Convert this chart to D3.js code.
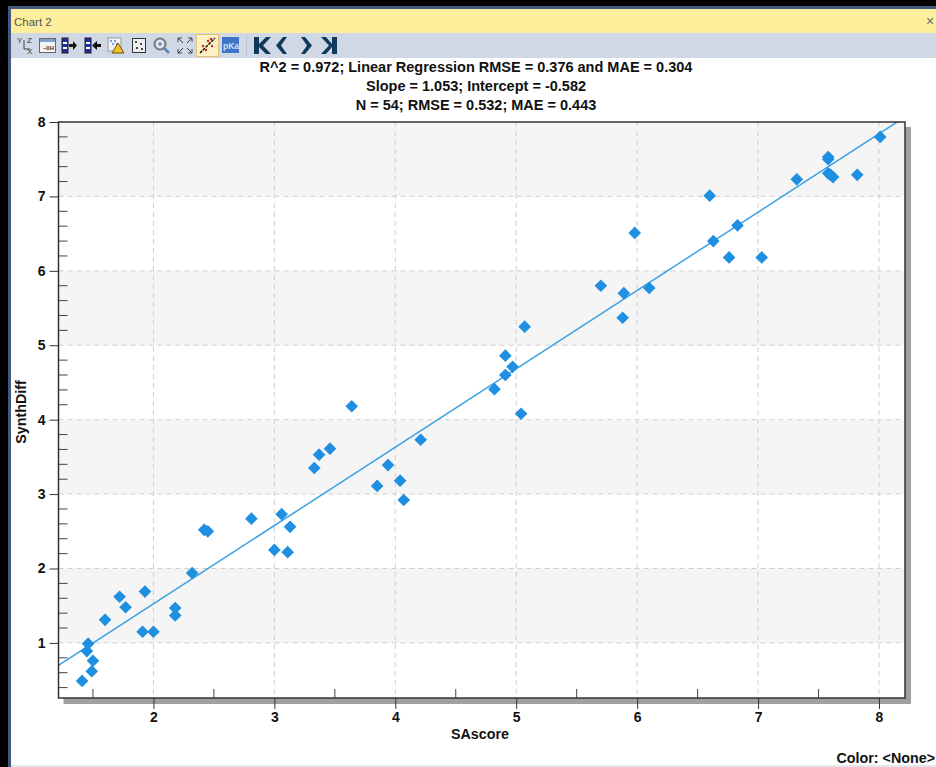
<!DOCTYPE html>
<html><head><meta charset="utf-8">
<script src="https://cdn.jsdelivr.net/npm/d3@7"></script>
<style>html,body{margin:0;padding:0;background:#000;overflow:hidden}svg{display:block}text{font-family:"Liberation Sans",Arial,sans-serif}</style>
</head><body><div id="c"></div>
<script>
const saScore = [1.41,1.49,1.50,1.45,1.46,1.60,1.72,1.77,1.91,2.00,1.93,2.18,2.18,2.32,2.42,2.45,2.81,3.00,3.06,3.11,3.13,3.33,3.37,3.46,3.64,3.85,3.94,4.04,4.07,4.21,4.82,4.91,4.91,4.97,5.04,5.07,5.70,5.89,5.88,5.98,6.10,6.60,6.63,6.76,6.83,7.03,7.32,7.58,7.58,7.58,7.62,7.60,7.82,8.01];
const synthDiff = [0.49,0.62,0.76,0.89,0.99,1.31,1.62,1.48,1.15,1.15,1.69,1.47,1.37,1.94,2.52,2.50,2.67,2.25,2.73,2.22,2.56,3.35,3.53,3.61,4.18,3.11,3.39,3.18,2.92,3.73,4.41,4.60,4.86,4.71,4.08,5.25,5.80,5.70,5.37,6.51,5.77,7.01,6.40,6.18,6.61,6.18,7.23,7.53,7.50,7.31,7.26,7.29,7.29,7.80];
const slope = 1.053, intercept = -0.582;
const xTicks = [2,3,4,5,6,7,8];
const yTicks = [1,2,3,4,5,6,7,8];
const bands = [[1,2],[3,4],[5,6],[7,8]];
const titleLines = ["R^2 = 0.972; Linear Regression RMSE = 0.376 and MAE = 0.304","Slope = 1.053; Intercept = -0.582","N = 54; RMSE = 0.532; MAE = 0.443"];
const xDomain = [1.215,8.215], yDomain = [0.26,8];
const xMinor = [1.5,2.5,3.5,4.5,5.5,6.5,7.5];
const yMinor = d3.range(0,8).flatMap(i=>[.2,.4,.6,.8].map(f=>+(i+f).toFixed(1))).filter(v=>v>yDomain[0]);

const W=936,H=767;
const L=58.5,R=905,T=122,B=698;
const x=d3.scaleLinear().domain(xDomain).range([L,R]);
const y=d3.scaleLinear().domain(yDomain).range([B,T]);
const svg=d3.select("#c").append("svg").attr("width",W).attr("height",H);

// window chrome
svg.append("rect").attr("width",W).attr("height",H).attr("fill","#000");
svg.append("rect").attr("x",8).attr("y",6).attr("width",W-8).attr("height",H-6).attr("fill","#44587f");
svg.append("rect").attr("x",11).attr("y",9).attr("width",W-11).attr("height",H-9).attr("fill","#fff");
svg.append("rect").attr("x",11).attr("y",9).attr("width",W-11).attr("height",24).attr("fill","#fdee9c");
svg.append("rect").attr("x",11).attr("y",33).attr("width",W-11).attr("height",25).attr("fill","#d0d7e5");
svg.append("rect").attr("x",11).attr("y",765).attr("width",W-11).attr("height",2).attr("fill","#e4e6f0");
svg.append("text").attr("x",14).attr("y",26).attr("font-size",11.500).attr("fill","#555").text("Chart 2");
svg.append("text").attr("x",926).attr("y",26).attr("font-size",14).attr("fill","#666").text("×");

// toolbar icons
const tb=svg.append("g");
tb.append("text").attr("x",17).attr("y",43).attr("font-size",8).attr("fill","#333").text("Y");
tb.append("text").attr("x",27).attr("y",43).attr("font-size",8).attr("fill","#333").text("Z");
tb.append("text").attr("x",27).attr("y",54).attr("font-size",8).attr("fill","#333").text("X");
tb.append("path").attr("d","M24 40V49H30").attr("fill","none").attr("stroke","#444");
tb.append("rect").attr("x",39.5).attr("y",38.5).attr("width",16).attr("height",14).attr("fill","#f4f4f4").attr("stroke","#667");
tb.append("rect").attr("x",40).attr("y",39).attr("width",15).attr("height",3).attr("fill","#7da0cc");
tb.append("text").attr("x",43).attr("y",50).attr("font-size",6).attr("font-weight","bold").attr("fill","#333").text("–0H");
[[62,"M69 44h4v-3l4 4.500l-4 4.500v-3h-4z"],[85,"M101 44h-4v-3l-5 4.500l5 4.500v-3h4z"]].forEach(([a,p])=>{
  tb.append("rect").attr("x",a).attr("y",38).attr("width",6).attr("height",15).attr("fill","#1c2f9c").attr("stroke","#222");
  tb.append("rect").attr("x",a+1).attr("y",42).attr("width",4).attr("height",2).attr("fill","#fff");
  tb.append("rect").attr("x",a+1).attr("y",47).attr("width",4).attr("height",2).attr("fill","#fff");
  tb.append("path").attr("d",p).attr("fill","#111");
});
tb.append("rect").attr("x",108).attr("y",38).attr("width",13).attr("height",13).attr("fill","#f4f4f4").attr("stroke","#999");
[[111,41],[115,41],[113,44],[117,44]].forEach(([a,b])=>tb.append("circle").attr("cx",a).attr("cy",b).attr("r",1).attr("fill","#4a80c8"));
tb.append("path").attr("d","M118 43L124 53H112Z").attr("fill","#f6c02d").attr("stroke","#6b5510");
tb.append("rect").attr("x",132.500).attr("y",38.500).attr("width",13).attr("height",14).attr("fill","#eee").attr("stroke","#333");
[[136,42],[141,44],[137,48],[142,49]].forEach(([a,b])=>tb.append("circle").attr("cx",a).attr("cy",b).attr("r",1).attr("fill","#111"));
tb.append("circle").attr("cx",160).attr("cy",44).attr("r",5.500).attr("fill","#dfe6f2").attr("stroke","#777").attr("stroke-width",2);
tb.append("path").attr("d","M164 48L169 53").attr("stroke","#5a86c4").attr("stroke-width",2.500);
tb.append("path").attr("d","M158 44h4M160 42v4").attr("stroke","#3e6db0");
tb.append("path").attr("d","M178 38h4M178 38v4M178 38l5 5M192 38h-4M192 38v4M192 38l-5 5M178 53h4M178 53v-4M178 53l5-5M192 53h-4M192 53v-4M192 53l-5-5").attr("stroke","#444").attr("fill","none");
tb.append("rect").attr("x",196.500).attr("y",34.500).attr("width",22).attr("height",22).attr("fill","#fef0c6").attr("stroke","#e5c27a");
tb.append("path").attr("d","M200 53L215 38").attr("stroke","#111").attr("stroke-width",1.500).attr("stroke-dasharray","3 1");
[[203,46],[208,41],[212,46],[206,50],[211,39]].forEach(([a,b])=>tb.append("circle").attr("cx",a).attr("cy",b).attr("r",1.200).attr("fill","#e02020"));
tb.append("rect").attr("x",222).attr("y",37).attr("width",17).attr("height",16).attr("fill","#3f74c6");
tb.append("text").attr("x",223).attr("y",49).attr("font-size",8.500).attr("font-weight","bold").attr("fill","#cfe0f6").text("pKa");
tb.append("path").attr("d","M246.500 34v22").attr("stroke","#bcc4d6");
["M254 37h5v7l7-7h5l-8 8.500l8 8.500h-5l-7-7v7h-5z","M287 37h-4l-7 8.500l7 8.500h4l-6-8.500z","M301 37h4l7 8.500l-7 8.500h-4l6-8.500z","M337 37h-5v7l-6-7h-5l8 8.500l-8 8.500h5l6-7v7h5z"].forEach(p=>tb.append("path").attr("d",p).attr("fill","#0e3a5e"));

// titles
const titleY=[72,91,110];
titleLines.forEach((t,i)=>svg.append("text").attr("x",476).attr("y",titleY[i]).attr("text-anchor","middle").attr("font-size",14.500).attr("font-weight","bold").attr("fill","#111").text(t));

// shadow
svg.append("rect").attr("x",L+5).attr("y",T+5).attr("width",R-L+1).attr("height",B-T+1).attr("fill","#a0a0a0");
svg.append("rect").attr("x",L).attr("y",T).attr("width",R-L).attr("height",B-T).attr("fill","#fff");

// bands
svg.append("g").selectAll("rect").data(bands).join("rect")
  .attr("x",L).attr("width",R-L).attr("y",d=>y(d[1])).attr("height",d=>y(d[0])-y(d[1])).attr("fill","#f5f5f5");

// grid
const grid=svg.append("g").attr("stroke","#cfcfcf").attr("stroke-dasharray","5 4");
grid.selectAll(".v").data(xTicks).join("line").attr("x1",d=>x(d)).attr("x2",d=>x(d)).attr("y1",T).attr("y2",B);
grid.selectAll(".h").data(yTicks.filter(d=>d<8)).join("line").attr("x1",L).attr("x2",R).attr("y1",d=>y(d)).attr("y2",d=>y(d));

// regression + points
svg.append("clipPath").attr("id","clip").append("rect").attr("x",L).attr("y",T).attr("width",R-L).attr("height",B-T);
const plot=svg.append("g").attr("clip-path","url(#clip)");
plot.append("line").attr("x1",x(xDomain[0])).attr("x2",x(xDomain[1]))
  .attr("y1",y(slope*xDomain[0]+intercept)).attr("y2",y(slope*xDomain[1]+intercept))
  .attr("stroke","#3aa0e4").attr("stroke-width",1.500);
const sym=d3.symbol().type(d3.symbolSquare).size(80);
plot.selectAll("path.pt").data(saScore.map((s,i)=>[s,synthDiff[i]])).join("path").attr("class","pt")
  .attr("d",sym).attr("fill","#1e8fe1").attr("transform",d=>`translate(${x(d[0])},${y(d[1])}) rotate(45)`);

// axes
const xAxis=svg.append("g").attr("transform",`translate(0,${B})`)
  .call(d3.axisBottom(x).tickValues(xTicks).tickSize(11).tickPadding(3).tickFormat(d3.format("d")));
const yAxis=svg.append("g").attr("transform",`translate(${L},0)`)
  .call(d3.axisLeft(y).tickValues(yTicks).tickSize(9).tickPadding(4).tickFormat(d3.format("d")));
[xAxis,yAxis].forEach(a=>{a.select(".domain").remove();a.selectAll("text").attr("font-size",14).attr("font-weight","bold").attr("fill","#111").attr("font-family","Liberation Sans");a.selectAll("line").attr("stroke","#333");});
const m=svg.append("g").attr("stroke","#444");
m.selectAll(".xm").data(xMinor).join("line").attr("x1",d=>x(d)).attr("x2",d=>x(d)).attr("y1",B-9).attr("y2",B);
m.selectAll(".ym").data(yMinor).join("line").attr("x1",L).attr("x2",L+9).attr("y1",d=>y(d)).attr("y2",d=>y(d));
svg.append("rect").attr("x",L).attr("y",T).attr("width",R-L).attr("height",B-T).attr("fill","none").attr("stroke","#333").attr("stroke-width",1.500);

// labels
svg.append("text").attr("x",480).attr("y",739).attr("text-anchor","middle").attr("font-size",14.300).attr("font-weight","bold").attr("fill","#111").text("SAscore");
svg.append("text").attr("transform","translate(26,412) rotate(-90)").attr("text-anchor","middle").attr("font-size",14.300).attr("font-weight","bold").attr("fill","#111").text("SynthDiff");
svg.append("text").attr("x",935).attr("y",763).attr("text-anchor","end").attr("font-size",14.300).attr("font-weight","bold").attr("fill","#111").text("Color: <None>");
</script></body></html>
